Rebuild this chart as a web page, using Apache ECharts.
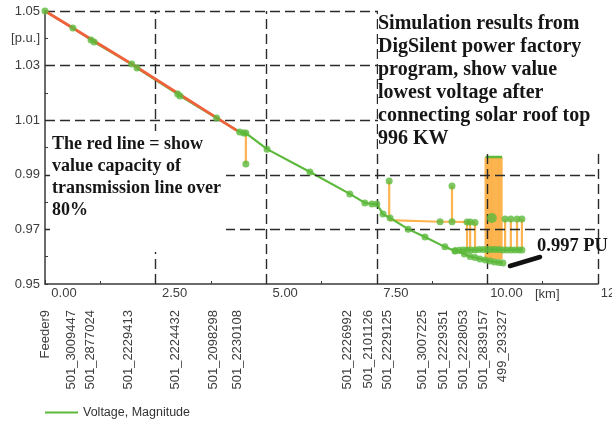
<!DOCTYPE html>
<html>
<head>
<meta charset="utf-8">
<script src="https://cdn.jsdelivr.net/npm/echarts@6/dist/echarts.min.js"></script>
<style>
  html, body { margin: 0; padding: 0; background: #ffffff; }
  #chart { width: 612px; height: 425px; }
</style>
</head>
<body>
<div id="chart"></div>
<script>
// Main feeder voltage profile: distance [km] and voltage [p.u.]
const trunkKm = [0, 0.63, 1.04, 1.11, 1.96, 2.08, 3.00, 3.05, 3.88, 4.40, 4.49, 4.54, 5.02, 5.99, 6.89, 7.23, 7.39, 7.50, 7.64, 7.80, 8.21, 8.59, 9.04, 9.27, 9.48, 9.61, 9.72, 9.83, 9.95, 10.06, 10.16, 10.26, 10.35];
const trunkPu = [1.0500, 1.0438, 1.0394, 1.0386, 1.0306, 1.0291, 1.0196, 1.0189, 1.0108, 1.0057, 1.0053, 1.0053, 0.9994, 0.9910, 0.9830, 0.9797, 0.9793, 0.9793, 0.9756, 0.9742, 0.9701, 0.9672, 0.9636, 0.9621, 0.9610, 0.9601, 0.9597, 0.9592, 0.9588, 0.9584, 0.9581, 0.9579, 0.9577];

// Section loaded above 80 % of line capacity (red)
const overloadKm = [0, 1.96, 4.34];
const overloadPu = [1.0500, 1.0306, 1.0062];

// Parallel lateral near the feeder end
const lateralKm = [9.27, 9.36, 9.45, 9.54, 9.63, 9.72, 9.81, 9.90, 9.99, 10.08, 10.17, 10.26, 10.35, 10.44, 10.53, 10.62, 10.71, 10.78];
const lateralPu = [0.9622, 0.9624, 0.9625, 0.9625, 0.9625, 0.9625, 0.9626, 0.9626, 0.9626, 0.9626, 0.9626, 0.9626, 0.9625, 0.9625, 0.9625, 0.9625, 0.9625, 0.9625];

// Branch line (orange) with PV connection points
const branchKm = [7.78, 8.93, 9.20, 9.54, 9.61, 9.72];
const branchPu = [0.9734, 0.9728, 0.9728, 0.9727, 0.9727, 0.9725];

// Short connections: position, upper and lower voltage
const linkKm  = [4.54, 7.78, 9.20, 9.54, 9.61, 9.72, 9.98, 10.06, 10.14, 10.22, 10.30, 10.40, 10.53, 10.67, 10.78];
const linkTop = [1.0053, 0.9877, 0.9859, 0.9727, 0.9727, 0.9725, 0.9965, 0.9965, 0.9965, 0.9965, 0.9965, 0.9738, 0.9738, 0.9738, 0.9738];
const linkLow = [0.9940, 0.9742, 0.9728, 0.9625, 0.9625, 0.9625, 0.9590, 0.9590, 0.9590, 0.9590, 0.9590, 0.9625, 0.9625, 0.9625, 0.9625];

// Busbar on top of the rooftop PV group
const pvBusKm = [9.96, 10.33];
const pvBusPu = [0.9965, 0.9965];

// Node markers on branches and connections
const nodeKm = [4.54, 7.78, 9.20, 8.93, 9.20, 9.54, 9.61, 9.72, 10.40, 10.53, 10.67, 10.78];
const nodePu = [0.9940, 0.9877, 0.9859, 0.9728, 0.9728, 0.9727, 0.9727, 0.9725, 0.9738, 0.9738, 0.9738, 0.9738];
const bigNodeKm = [10.10];
const bigNodePu = [0.9742];

// Pointer to the lowest voltage
const pointerKm = [10.51, 11.19];
const pointerPu = [0.9566, 0.9599];

// Dashed reference lines
const gridPu = [0.97, 0.99, 1.01, 1.03, 1.05];
const gridKm = [2.5, 5.0, 7.5, 10.0, 12.5];

// Busbar names along the feeder
const busKm = [0.0, 0.59, 1.02, 1.88, 2.94, 3.80, 4.34, 6.83, 7.30, 7.73, 8.54, 9.00, 9.45, 9.90, 10.35];
const busNames = ['Feeder9', '501_3009447', '501_2877024', '501_2229413', '501_2224432', '501_2098298', '501_2230108',
  '501_2226992', '501_2101126', '501_2229125', '501_3007225', '501_2229351', '501_2228053', '501_2839157', '499_293327'];

const GREEN = '#5cb93c';
const RED = '#f0623c';
const ORANGE = '#fbac3c';
const AXIS = '#3a3a3a';
const TEXT = '#3d3d3d';
const SANS = '"Liberation Sans", Arial, sans-serif';
const serif = size => 'bold ' + size + 'px "Liberation Serif", "Times New Roman", serif';

const pairs = (xs, ys) => xs.map((x, i) => [x, ys[i]]);

const linkSeries = linkKm.map((km, i) => ({
  type: 'line',
  data: [[km, linkTop[i]], [km, linkLow[i]]],
  showSymbol: false,
  lineStyle: { color: ORANGE, width: i >= 6 && i <= 10 ? 4 : 2.2, opacity: 0.9 },
  z: 3,
  silent: true
}));

const chart = echarts.init(document.getElementById('chart'), null, { renderer: 'canvas' });

chart.setOption({
  animation: false,
  backgroundColor: '#ffffff',
  grid: { left: 45, right: 14, top: 11, bottom: 141, containLabel: false, outerBoundsMode: 'none' },
  legend: {
    data: ['Voltage, Magnitude'],
    left: 40, top: 401,
    icon: 'rect', itemWidth: 33, itemHeight: 2, itemGap: 8,
    textStyle: { fontFamily: SANS, fontSize: 12.5, color: '#333' }
  },
  xAxis: [
    {
      type: 'value', min: 0, max: 12.5, interval: 2.5,
      axisLine: { lineStyle: { color: AXIS, width: 1.5 } },
      axisTick: { inside: true, length: 4, lineStyle: { color: AXIS } },
      minorTick: { show: true, splitNumber: 2, length: 3, lineStyle: { color: AXIS } },
      splitLine: { show: false },
      axisLabel: {
        fontFamily: SANS, fontSize: 13, color: TEXT, margin: 3,
        padding: [0, 0, 0, 38],
        formatter: v => v.toFixed(2)
      },
      name: '[km]', nameLocation: 'end', nameGap: -63,
      nameTextStyle: { fontFamily: SANS, fontSize: 13, color: TEXT, align: 'left', verticalAlign: 'top', padding: [4, 0, 0, 0] }
    },
    {
      type: 'value', min: 0, max: 12.5, position: 'bottom',
      axisLine: { show: false }, axisTick: { show: false }, splitLine: { show: false },
      axisLabel: {
        customValues: busKm,
        rotate: 90, margin: 26,
        fontFamily: SANS, fontSize: 13, color: TEXT,
        formatter: v => {
          const i = busKm.findIndex(k => Math.abs(k - v) < 1e-6);
          return i >= 0 ? busNames[i] : '';
        }
      }
    }
  ],
  yAxis: {
    type: 'value', min: 0.95, max: 1.05, interval: 0.01,
    axisLine: { show: true, lineStyle: { color: AXIS, width: 1.5 } },
    axisTick: { inside: true, length: 3, lineStyle: { color: AXIS } },
    splitLine: { show: false },
    axisLabel: {
      fontFamily: SANS, fontSize: 13, color: TEXT, margin: 5,
      formatter: v => {
        const k = Math.round(v * 100);
        if (k === 104) return '[p.u.]';
        return k % 2 === 1 ? v.toFixed(2) : '';
      }
    }
  },
  series: [
    {
      type: 'line', data: [], silent: true, z: 1, clip: false,
      markLine: {
        silent: true, symbol: 'none', animation: false,
        label: { show: false },
        lineStyle: { color: '#2a2a2a', type: [10, 5], width: 1.4 },
        data: [...gridPu.map(v => ({ yAxis: v })), ...gridKm.map(v => ({ xAxis: v }))]
      }
    },
    ...linkSeries,
    {
      type: 'line', data: pairs(branchKm, branchPu), showSymbol: false, silent: true, z: 3,
      lineStyle: { color: ORANGE, width: 2.2, opacity: 0.9 }
    },
    {
      name: 'Voltage, Magnitude',
      type: 'line', data: pairs(trunkKm, trunkPu), showSymbol: false, z: 4,
      itemStyle: { color: GREEN },
      lineStyle: { color: GREEN, width: 2.2 }
    },
    {
      type: 'line', data: pairs(overloadKm, overloadPu), showSymbol: false, silent: true, z: 5,
      lineStyle: { color: RED, width: 2.8 }
    },
    {
      type: 'line', data: pairs(lateralKm, lateralPu), showSymbol: false, silent: true, z: 4,
      lineStyle: { color: GREEN, width: 2.2 }
    },
    {
      type: 'line', data: pairs(pvBusKm, pvBusPu), showSymbol: false, silent: true, z: 4,
      lineStyle: { color: GREEN, width: 2.5 }
    },
    {
      type: 'scatter', data: pairs(trunkKm, trunkPu), symbolSize: 7, silent: true, z: 6,
      itemStyle: { color: GREEN }
    },
    {
      type: 'scatter', data: pairs(lateralKm, lateralPu), symbolSize: 7, silent: true, z: 6,
      itemStyle: { color: GREEN }
    },
    {
      type: 'scatter', data: pairs(nodeKm, nodePu), symbolSize: 7, silent: true, z: 6,
      itemStyle: { color: GREEN }
    },
    {
      type: 'scatter', data: pairs(bigNodeKm, bigNodePu), symbolSize: 10, silent: true, z: 6,
      itemStyle: { color: GREEN }
    },
    {
      type: 'line', data: pairs(pointerKm, pointerPu), showSymbol: false, silent: true, z: 8, clip: false,
      lineStyle: { color: '#111', width: 4.5, cap: 'round' }
    }
  ],
  graphic: [
    { type: 'rect', shape: { x: 50, y: 131, width: 176, height: 121 }, style: { fill: '#ffffff' }, z: 50, silent: true },
    {
      type: 'text', x: 52, y: 133, z: 51, silent: true,
      style: {
        text: 'The red line = show\nvalue capacity of\ntransmission line over\n80%',
        font: serif(18), fill: '#161616', lineHeight: 22, verticalAlign: 'top'
      }
    },
    { type: 'rect', shape: { x: 378, y: 0, width: 234, height: 152 }, style: { fill: '#ffffff' }, z: 50, silent: true },
    {
      type: 'text', x: 378, y: 12, z: 51, silent: true,
      style: {
        text: 'Simulation results from\nDigSilent power factory\nprogram, show value\nlowest voltage after\nconnecting solar roof top\n996 KW',
        font: serif(20), fill: '#161616', lineHeight: 23, verticalAlign: 'top'
      }
    },
    {
      type: 'text', x: 537, y: 237, z: 51, silent: true,
      style: { text: '0.997 PU', font: serif(18.5), fill: '#161616', verticalAlign: 'top' }
    }
  ]
});
</script>
</body>
</html>
